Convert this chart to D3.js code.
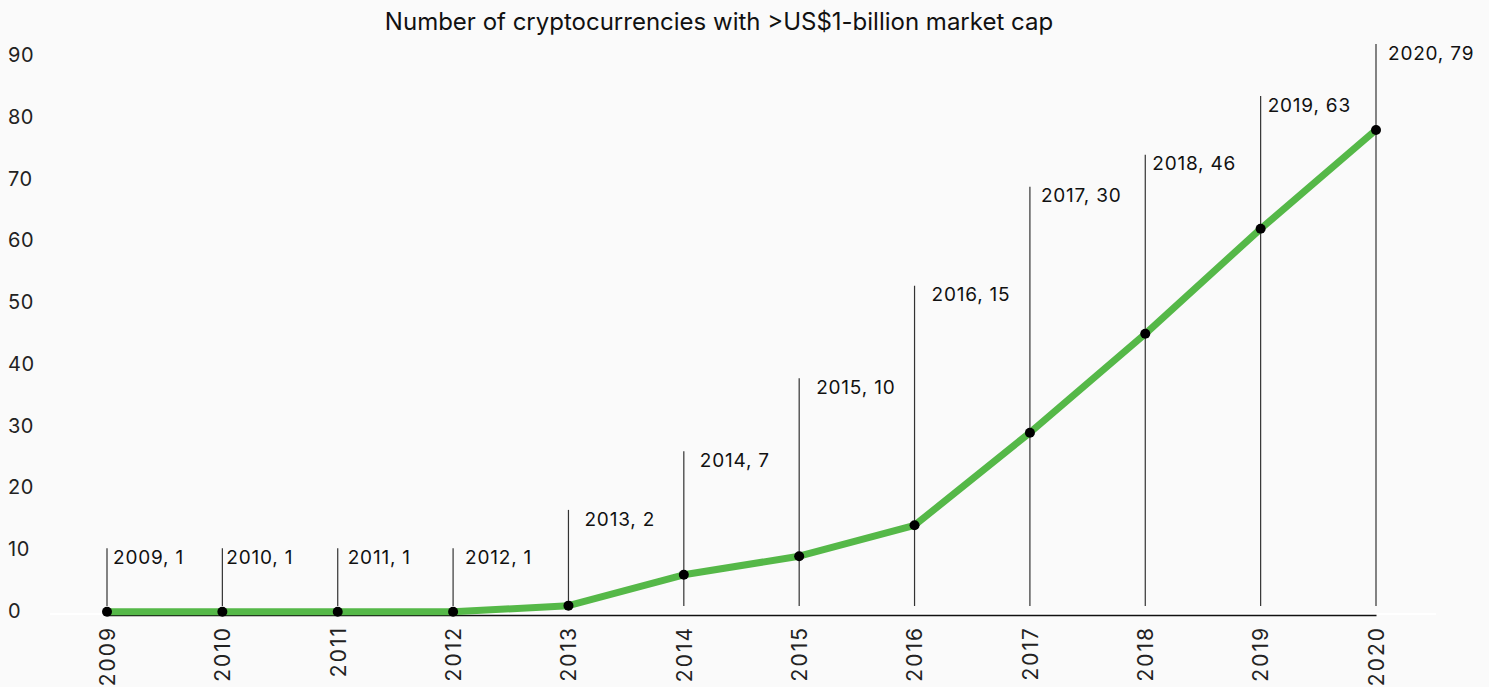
<!DOCTYPE html>
<html><head><meta charset="utf-8">
<script src="https://cdn.jsdelivr.net/npm/d3@7"></script>
<style>
html,body{margin:0;padding:0;background:#fafafa;}
svg{display:block;font-family:Inter, "Noto Sans", sans-serif;}
</style></head>
<body>
<svg id="chart" width="1489" height="687"></svg>
<script>
const years = [2009,2010,2011,2012,2013,2014,2015,2016,2017,2018,2019,2020];
const counts = [1,1,1,1,2,7,10,15,30,46,63,79];
const yTicks = [0,10,20,30,40,50,60,70,80,90];
const title = "Number of cryptocurrencies with >US$1-billion market cap";
// annotation callout heights (in data units) and label offsets
const calloutTop = [11.3,11.3,11.3,11.3,17.5,27.0,38.8,53.8,69.8,75.0,84.5,92.9];
const labelDx = [6,4,10,12,16,16,17,17,11,7,7,12];

const svg = d3.select("#chart");
const W = 1489, H = 687;
svg.append("rect").attr("width",W).attr("height",H).attr("fill","#fafafa");

const x = d3.scalePoint().domain(years).range([107,1376]);
const y = d3.scaleLinear().domain([0,90]).range([618,62]);
const base = 615;

svg.append("text").attr("x",719).attr("y",30).attr("text-anchor","middle")
  .attr("font-size",24).attr("fill","#111").text(title);

// y tick labels
svg.append("g").selectAll("text").data(yTicks).join("text")
  .attr("x",8).attr("y",d=>y(d)-7).attr("dy","0.35em")
  .attr("font-size",20).attr("letter-spacing","0.5px").attr("fill","#222").text(d=>d);

// light zero line
svg.append("line").attr("x1",50).attr("x2",1436).attr("y1",base-1).attr("y2",base-1)
  .attr("stroke","#ffffff").attr("stroke-width",2);

// x axis
const xAxis = d3.axisBottom(x).tickSize(0).tickPadding(0);
const gx = svg.append("g").attr("transform",`translate(0,${base})`).call(xAxis);
gx.select(".domain").attr("stroke","#111").attr("stroke-width",1.5);
gx.selectAll("text").attr("font-size",21).attr("fill","#222")
  .attr("letter-spacing","2px")
  .attr("font-family","Inter, 'Noto Sans', sans-serif")
  .attr("transform","rotate(-90)").attr("text-anchor","end")
  .attr("x",-11).attr("y",0).attr("dy","0.35em");

// callout lines
const data = years.map((yr,i)=>({yr, v:counts[i], top:calloutTop[i], dx:labelDx[i]}));
svg.append("g").selectAll("line").data(data).join("line")
  .attr("x1",d=>x(d.yr)).attr("x2",d=>x(d.yr))
  .attr("y1",d=>y(d.top)).attr("y2",base-9)
  .attr("stroke","#333").attr("stroke-width",1.2);

// line
const line = d3.line().x(d=>x(d.yr)).y(d=>y(d.v));
svg.append("path").datum(data).attr("d",line)
  .attr("fill","none").attr("stroke","#55b848").attr("stroke-width",7)
  .attr("stroke-linecap","round").attr("stroke-linejoin","round");

// points
svg.append("g").selectAll("circle").data(data).join("circle")
  .attr("cx",d=>x(d.yr)).attr("cy",d=>y(d.v)).attr("r",5).attr("fill","#000");

// labels
svg.append("g").selectAll("text").data(data).join("text")
  .attr("x",d=>x(d.yr)+d.dx).attr("y",d=>y(d.top)+9).attr("dy","0.35em")
  .attr("font-size",19).attr("letter-spacing","0.8px").attr("fill","#111").text(d=>`${d.yr}, ${d.v}`);
</script>
</body></html>
